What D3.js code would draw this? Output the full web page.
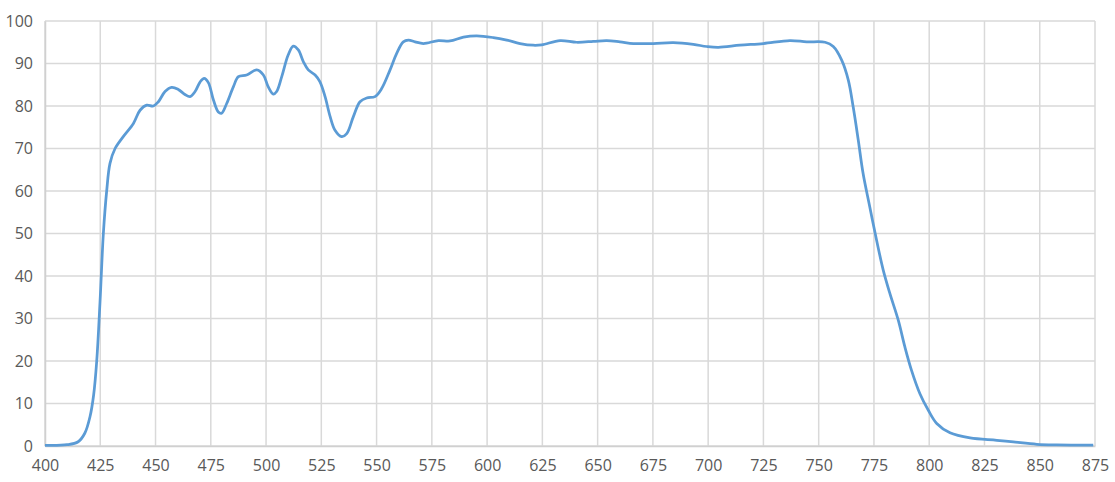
<!DOCTYPE html>
<html lang="en">
<head>
    <meta charset="UTF-8">
    <title>Transmission curve</title>
    <script src="https://cdn.jsdelivr.net/npm/d3@7"></script>
    <style>
        body {margin: 0; background: white;}
    </style>
</head>
<body>
<script>
    const width = 1115;
    const height = 482;

    // wavelength (nm) and transmission (%)
    const wavelength = [400, 410, 415, 418, 420.4, 422, 423.4, 424.9, 426.4, 427.9, 429.4, 431.7, 435.4, 440, 443, 446, 449,
        451.3, 454.3, 457.3, 460.3, 463.3, 465.6, 467.9, 470.2, 472, 473.9, 476.2, 478.4, 479.9, 482.2, 485.2, 487.5,
        491.2, 495.8, 498.8, 501, 503.3, 504.8, 507.1, 510, 512.3, 514.6, 516.9, 519.1, 522.2, 524.4, 526.7, 529,
        531.2, 534.2, 536.5, 539.5, 542.5, 545.5, 549.3, 552.3, 556.1, 559.1, 562.1, 564.4, 567.4, 571.2, 578,
        583.2, 589.3, 595.3, 602.8, 608.9, 614.9, 620.9, 624.7, 633, 640.5, 648, 654.1, 660.1, 666.2, 675.2,
        684.3, 693.3, 699.3, 704.6, 714.4, 725, 737, 744.6, 752.9, 756.6, 760.4, 763.4, 765.6, 767.9, 770.1,
        773.1, 776.2, 779.2, 782.2, 786, 789, 792, 795.8, 799.6, 803.4, 809.4, 818.5, 830.6, 838.1, 848.7,
        857.7, 874.2];
    const transmission = [0.15, 0.3, 1, 3, 7, 12, 20, 34, 50, 60, 66.5, 70, 72.8, 75.9, 79, 80.2, 80,
        81, 83.4, 84.4, 83.9, 82.7, 82.2, 83.4, 85.7, 86.5, 85.5, 81.4, 78.6, 78.3, 80.6, 84.5, 86.9,
        87.3, 88.5, 87.3, 84.5, 82.8, 83.4, 86.9, 92, 94.1, 93.2, 90.4, 88.5, 87.3, 85.7, 82.2, 77.5,
        74.3, 72.8, 73.5, 77.5, 81, 81.9, 82.2, 84.1, 88.5, 92.4, 95.1, 95.5, 95.1, 94.7, 95.4,
        95.3, 96.2, 96.5, 96.1, 95.5, 94.7, 94.3, 94.4, 95.4, 95.0, 95.2, 95.4, 95.1, 94.7, 94.7,
        94.9, 94.5, 94.0, 93.8, 94.3, 94.7, 95.4, 95.1, 95.0, 94.0, 90.8, 86.1, 79.8, 72, 64.1,
        56.3, 48.4, 41.4, 35.9, 29.6, 23.3, 17.8, 12.3, 8.4, 5.3, 3.1, 1.9, 1.35, 0.95, 0.4,
        0.25, 0.2];

    const xTicks = d3.range(400, 876, 25);
    const yTicks = d3.range(0, 101, 10);

    const margin = {top: 21, right: 20, bottom: 36, left: 45};

    const svg = d3.select("body").append("svg")
            .attr("width", width).attr("height", height);

    const x = d3.scaleLinear().domain([400, 875]).range([margin.left, width - margin.right]);
    const y = d3.scaleLinear().domain([0, 100]).range([height - margin.bottom, margin.top]);

    // grid
    svg.append("g").attr("class", "grid-x")
        .selectAll("line")
        .data(xTicks)
        .join("line")
        .attr("x1", d => x(d)).attr("x2", d => x(d))
        .attr("y1", y(0)).attr("y2", y(100))
        .style("stroke", "#d9d9d9")
        .style("stroke-width", 1.5);

    svg.append("g").attr("class", "grid-y")
        .selectAll("line")
        .data(yTicks)
        .join("line")
        .attr("x1", x(400)).attr("x2", x(875))
        .attr("y1", d => y(d)).attr("y2", d => y(d))
        .style("stroke", "#d9d9d9")
        .style("stroke-width", 1.5);

    // axes (labels only)
    const xAxis = svg.append("g")
        .attr("transform", `translate(0,${y(0)})`)
        .call(d3.axisBottom(x).tickValues(xTicks).tickSize(0).tickPadding(14));
    xAxis.select(".domain").style("stroke", "#d0d0d0").style("stroke-width", 1.5);

    const yAxis = svg.append("g")
        .attr("transform", `translate(${x(400)},0)`)
        .call(d3.axisLeft(y).tickValues(yTicks).tickSize(0).tickPadding(12));
    yAxis.select(".domain").style("stroke", "#d0d0d0").style("stroke-width", 1.5);

    svg.selectAll(".tick text")
        .attr("font-family", "'Open Sans', sans-serif")
        .attr("font-size", 16)
        .attr("fill", "#595959");
    xAxis.attr("font-size", 16).attr("font-family", "'Open Sans', sans-serif");
    yAxis.attr("font-size", 16).attr("font-family", "'Open Sans', sans-serif");

    // curve
    const line = d3.line()
        .x((d, i) => x(wavelength[i]))
        .y(d => y(d))
        .curve(d3.curveCatmullRom.alpha(0.5));

    svg.append("path")
        .datum(transmission)
        .attr("d", line)
        .style("fill", "none")
        .style("stroke", "#5b9bd5")
        .style("stroke-width", 2.75)
        .style("stroke-linejoin", "round");
</script>
</body>
</html>
